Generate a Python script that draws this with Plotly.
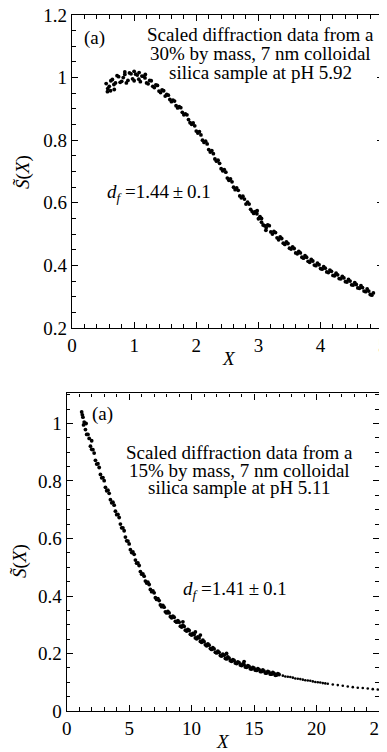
import plotly.graph_objects as go

# ---------------- Top panel data (30% by mass, pH 5.92) ----------------
top_x_a = [0.55, 0.60, 0.65, 0.70, 0.75, 0.80, 0.85, 0.90, 0.95, 1.00,
           1.05, 1.10, 1.15, 1.20, 1.25, 1.30, 1.35, 1.40, 1.45, 1.50,
           1.55, 1.60, 1.65, 1.70, 1.75, 1.80, 1.85, 1.90, 1.95, 2.00,
           2.05, 2.10, 2.15, 2.20, 2.25, 2.30, 2.35, 2.40, 2.45, 2.50,
           2.55, 2.60, 2.65, 2.70, 2.75, 2.80, 2.85, 2.90, 2.95, 3.00,
           3.05, 3.10, 3.15, 3.20, 3.25, 3.30, 3.35, 3.40, 3.45, 3.50,
           3.55, 3.60, 3.65, 3.70, 3.75, 3.80, 3.85, 3.90, 3.95, 4.00,
           4.05, 4.10, 4.15, 4.20, 4.25, 4.30, 4.35, 4.40, 4.45, 4.50,
           4.55, 4.60, 4.65, 4.70, 4.75, 4.80, 4.85]
top_y_a = [0.981, 0.972, 0.994, 0.983, 1.003, 0.988, 1.010, 0.991, 1.012, 0.990,
           1.008, 0.987, 1.004, 0.983, 0.991, 0.972, 0.977, 0.957, 0.961, 0.941,
           0.944, 0.923, 0.925, 0.903, 0.904, 0.881, 0.881, 0.856, 0.855, 0.829,
           0.827, 0.800, 0.797, 0.770, 0.767, 0.740, 0.736, 0.709, 0.706, 0.679,
           0.676, 0.650, 0.648, 0.622, 0.621, 0.596, 0.596, 0.572, 0.572, 0.549,
           0.550, 0.527, 0.529, 0.507, 0.509, 0.488, 0.491, 0.471, 0.475, 0.455,
           0.459, 0.440, 0.445, 0.426, 0.431, 0.413, 0.419, 0.401, 0.407, 0.390,
           0.396, 0.379, 0.385, 0.368, 0.375, 0.358, 0.365, 0.348, 0.355, 0.338,
           0.345, 0.328, 0.335, 0.318, 0.325, 0.307, 0.312]

top_x_b = [0.575, 0.625, 0.675, 0.725, 0.775, 0.825, 0.875, 0.925, 0.975, 1.025,
           1.075, 1.125, 1.175, 1.225, 1.275, 1.325, 1.375, 1.425, 1.475, 1.525,
           1.575, 1.625, 1.675, 1.725, 1.775, 1.825, 1.875, 1.925, 1.975, 2.025,
           2.075, 2.125, 2.175, 2.225, 2.275, 2.325, 2.375, 2.425, 2.475, 2.525,
           2.575, 2.625, 2.675, 2.725, 2.775, 2.825, 2.875, 2.925, 2.975, 3.025,
           3.075, 3.125, 3.175, 3.225, 3.275, 3.325, 3.375, 3.425, 3.475, 3.525,
           3.575, 3.625, 3.675, 3.725, 3.775, 3.825, 3.875, 3.925, 3.975, 4.025,
           4.075, 4.125, 4.175, 4.225, 4.275, 4.325, 4.375, 4.425, 4.475, 4.525,
           4.575, 4.625, 4.675, 4.725, 4.775, 4.825]
top_y_b = [0.965, 0.990, 0.978, 1.006, 0.985, 1.000, 0.983, 1.015, 0.996, 1.011,
           0.995, 1.005, 0.999, 0.980, 0.990, 0.968, 0.975, 0.952, 0.958, 0.946,
           0.930, 0.928, 0.910, 0.907, 0.889, 0.884, 0.866, 0.851, 0.846, 0.823,
           0.817, 0.793, 0.788, 0.762, 0.757, 0.733, 0.726, 0.702, 0.698, 0.672,
           0.667, 0.642, 0.640, 0.616, 0.612, 0.602, 0.579, 0.566, 0.565, 0.556,
           0.529, 0.520, 0.527, 0.500, 0.505, 0.482, 0.486, 0.467, 0.470, 0.452,
           0.454, 0.437, 0.440, 0.423, 0.426, 0.410, 0.414, 0.399, 0.402, 0.388,
           0.391, 0.377, 0.381, 0.367, 0.370, 0.357, 0.360, 0.347, 0.350, 0.337,
           0.339, 0.327, 0.329, 0.316, 0.318, 0.305]

top_x_c = [0.57, 0.62, 0.68, 0.85, 1.00, 1.08, 1.18, 3.05, 3.12, 2.98]
top_y_c = [0.955, 0.958, 0.962, 1.018, 1.020, 1.016, 1.010, 0.538, 0.512, 0.575]

# ---------------- Bottom panel data (15% by mass, pH 5.11) ----------------
bot_x_a = [1.3, 1.5, 1.7, 1.9, 2.1, 2.3, 2.5, 2.7, 2.9, 3.1,
           3.3, 3.5, 3.7, 3.9, 4.1, 4.3, 4.5, 4.7, 4.9, 5.1,
           5.3, 5.5, 5.7, 5.9, 6.1, 6.3, 6.5, 6.7, 6.9, 7.1,
           7.3, 7.5, 7.7, 7.9, 8.1, 8.3, 8.5, 8.7, 8.9, 9.1,
           9.3, 9.5, 9.7, 9.9, 10.1, 10.3, 10.5, 10.7, 10.9, 11.1,
           11.3, 11.5, 11.7, 11.9, 12.1, 12.3, 12.5, 12.7, 12.9, 13.1,
           13.3, 13.5, 13.7, 13.9, 14.1, 14.3, 14.5, 14.7, 14.9, 15.1,
           15.3, 15.5, 15.7, 15.9, 16.1, 16.3, 16.5, 16.7, 16.9]
bot_y_a = [1.022, 0.979, 0.962, 0.921, 0.909, 0.872, 0.860, 0.823, 0.812, 0.778,
           0.768, 0.735, 0.726, 0.695, 0.684, 0.650, 0.637, 0.605, 0.591, 0.561,
           0.553, 0.525, 0.515, 0.485, 0.477, 0.452, 0.448, 0.423, 0.418, 0.394,
           0.391, 0.369, 0.367, 0.345, 0.346, 0.328, 0.330, 0.312, 0.314, 0.295,
           0.298, 0.281, 0.284, 0.267, 0.270, 0.254, 0.258, 0.242, 0.246, 0.230,
           0.233, 0.217, 0.220, 0.204, 0.208, 0.193, 0.198, 0.183, 0.188, 0.175,
           0.179, 0.167, 0.171, 0.160, 0.164, 0.153, 0.158, 0.147, 0.152, 0.142,
           0.147, 0.137, 0.143, 0.132, 0.138, 0.128, 0.134, 0.124, 0.130]

bot_x_b = [1.4, 1.6, 1.8, 2.0, 2.2, 2.4, 2.6, 2.8, 3.0, 3.2,
           3.4, 3.6, 3.8, 4.0, 4.2, 4.4, 4.6, 4.8, 5.0, 5.2,
           5.4, 5.6, 5.8, 6.0, 6.2, 6.4, 6.6, 6.8, 7.0, 7.2,
           7.4, 7.6, 7.8, 8.0, 8.2, 8.4, 8.6, 8.8, 9.0, 9.2,
           9.4, 9.6, 9.8, 10.0, 10.2, 10.4, 10.6, 10.8, 11.0, 11.2,
           11.4, 11.6, 11.8, 12.0, 12.2, 12.4, 12.6, 12.8, 13.0, 13.2,
           13.4, 13.6, 13.8, 14.0, 14.2, 14.4, 14.6, 14.8, 15.0, 15.2,
           15.4, 15.6, 15.8, 16.0, 16.2, 16.4, 16.6, 16.8, 17.0]
bot_y_b = [1.005, 0.962, 0.948, 0.910, 0.897, 0.859, 0.847, 0.811, 0.801, 0.766,
           0.757, 0.724, 0.716, 0.683, 0.673, 0.637, 0.627, 0.592, 0.581, 0.551,
           0.545, 0.514, 0.506, 0.476, 0.469, 0.445, 0.440, 0.415, 0.411, 0.388,
           0.384, 0.363, 0.361, 0.341, 0.341, 0.324, 0.326, 0.309, 0.309, 0.292,
           0.294, 0.278, 0.280, 0.264, 0.266, 0.251, 0.254, 0.239, 0.241, 0.227,
           0.229, 0.214, 0.216, 0.202, 0.204, 0.191, 0.194, 0.181, 0.184, 0.173,
           0.176, 0.165, 0.168, 0.158, 0.161, 0.152, 0.155, 0.146, 0.149, 0.141,
           0.144, 0.137, 0.139, 0.132, 0.135, 0.128, 0.131, 0.125, 0.127]

bot_x_c = [1.2, 1.25, 1.35, 1.55, 2.0, 9.3, 10.3, 10.7, 12.8, 14.2]
bot_y_c = [1.040, 1.030, 0.995, 1.000, 0.940, 0.310, 0.275, 0.264, 0.200, 0.172]

bot_x_tail = [17.3, 17.7, 18.1, 18.5, 18.9, 19.3, 19.7, 20.1, 20.5, 20.9,
              21.3, 21.7, 22.1, 22.5, 22.9, 23.3, 23.7, 24.1, 24.5, 24.9,
              17.5, 17.9, 18.3, 18.7, 19.1, 19.5, 19.9, 20.3, 20.7]
bot_y_tail = [0.123, 0.119, 0.116, 0.112, 0.109, 0.106, 0.103, 0.100, 0.097, 0.095,
              0.092, 0.090, 0.088, 0.085, 0.083, 0.081, 0.080, 0.078, 0.076, 0.075,
              0.120, 0.118, 0.113, 0.111, 0.107, 0.105, 0.101, 0.099, 0.096]

top_xticks = [0, 1, 2, 3, 4, 5]
top_yticks = [0.2, 0.4, 0.6, 0.8, 1.0, 1.2]
top_ytext = ["0.2", "0.4", "0.6", "0.8", "1", "1.2"]
bot_xticks = [0, 5, 10, 15, 20, 25]
bot_yticks = [0, 0.2, 0.4, 0.6, 0.8, 1.0]
bot_ytext = ["0", "0.2", "0.4", "0.6", "0.8", "1"]

top_lines = ["Scaled diffraction data from a",
             "30% by mass, 7 nm colloidal",
             "silica sample at pH 5.92"]
bot_lines = ["Scaled diffraction data from a",
             "15% by mass, 7 nm colloidal",
             "silica sample at pH 5.11"]
top_df = "<i>d</i><sub><i>f</i></sub> =1.44\u2009±\u20090.1"
bot_df = "<i>d</i><sub><i>f</i></sub> =1.41\u2009±\u20090.1"

# ---------------- Figure ----------------
# The page body adds an 8 px offset; the figure is shifted to compensate.
OFF = 8
W, H = 387 - OFF, 752 - OFF
FONT = "Liberation Serif, Times New Roman, serif"


def px(x):
    return (x - OFF) / W


def py(y):
    return 1 - (y - OFF) / H


fig = go.Figure()
mk = dict(color="black", size=3.8, line=dict(width=0))
mk_small = dict(color="black", size=2.6, line=dict(width=0))
for xs, ys in [(top_x_a, top_y_a), (top_x_b, top_y_b), (top_x_c, top_y_c)]:
    fig.add_trace(go.Scatter(x=xs, y=ys, mode="markers", marker=mk,
                             xaxis="x", yaxis="y", hoverinfo="x+y"))
for xs, ys in [(bot_x_a, bot_y_a), (bot_x_b, bot_y_b), (bot_x_c, bot_y_c)]:
    fig.add_trace(go.Scatter(x=xs, y=ys, mode="markers", marker=mk,
                             xaxis="x2", yaxis="y2", hoverinfo="x+y"))
fig.add_trace(go.Scatter(x=bot_x_tail, y=bot_y_tail, mode="markers", marker=mk_small,
                         xaxis="x2", yaxis="y2", hoverinfo="x+y"))

common = dict(showline=True, linecolor="black", linewidth=1.4, mirror="allticks",
              ticks="inside", ticklen=6, tickwidth=1, tickcolor="black",
              showgrid=False, zeroline=False, automargin=False,
              ticklabeloverflow="allow",
              tickfont=dict(family=FONT, size=19, color="black"))


def minor(d):
    return dict(dtick=d, ticks="inside", ticklen=3.5, tickwidth=1,
                tickcolor="black", showgrid=False)


fig.update_layout(
    width=W, height=H, margin=dict(l=0, r=0, t=0, b=0, autoexpand=False),
    paper_bgcolor="white", plot_bgcolor="white", showlegend=False,
    xaxis=dict(domain=[px(72), px(382.7)], range=[0, 5], tickvals=top_xticks,
               minor=minor(0.2), anchor="y", **common),
    yaxis=dict(domain=[py(328), py(15)], range=[0.2, 1.2], tickvals=top_yticks,
               ticktext=top_ytext, minor=minor(0.05), anchor="x", **common),
    xaxis2=dict(domain=[px(66.7), px(379)], range=[0, 25], tickvals=bot_xticks,
                minor=minor(1), anchor="y2", **common),
    yaxis2=dict(domain=[py(711), py(393.3)], range=[0, 1.105], tickvals=bot_yticks,
                ticktext=bot_ytext, minor=minor(0.05), anchor="x2", **common),
)

ann = []


def add_text(text, x, y, size=19, xanchor="center", angle=0):
    ann.append(dict(text=text, x=px(x), y=py(y), xref="paper", yref="paper",
                    xanchor=xanchor, yanchor="middle", showarrow=False,
                    textangle=angle,
                    font=dict(family=FONT, size=size, color="black")))


add_text("(a)", 94, 38)
for t, yy in zip(top_lines, [35, 53.5, 72]):
    add_text(t, 260, yy)
add_text(top_df, 105, 193, xanchor="left")

add_text("(a)", 102, 414)
for t, yy in zip(bot_lines, [452, 470, 487]):
    add_text(t, 239, yy)
add_text(bot_df, 181, 590, xanchor="left")

add_text("<i>X</i>", 229, 358)
add_text("<i>X</i>", 223, 741)
add_text("<i>S̃</i>(<i>X</i>)", 23, 172, angle=-90)
add_text("<i>S̃</i>(<i>X</i>)", 20, 561, angle=-90)

fig.update_layout(annotations=ann)
fig.write_html("out.html")
